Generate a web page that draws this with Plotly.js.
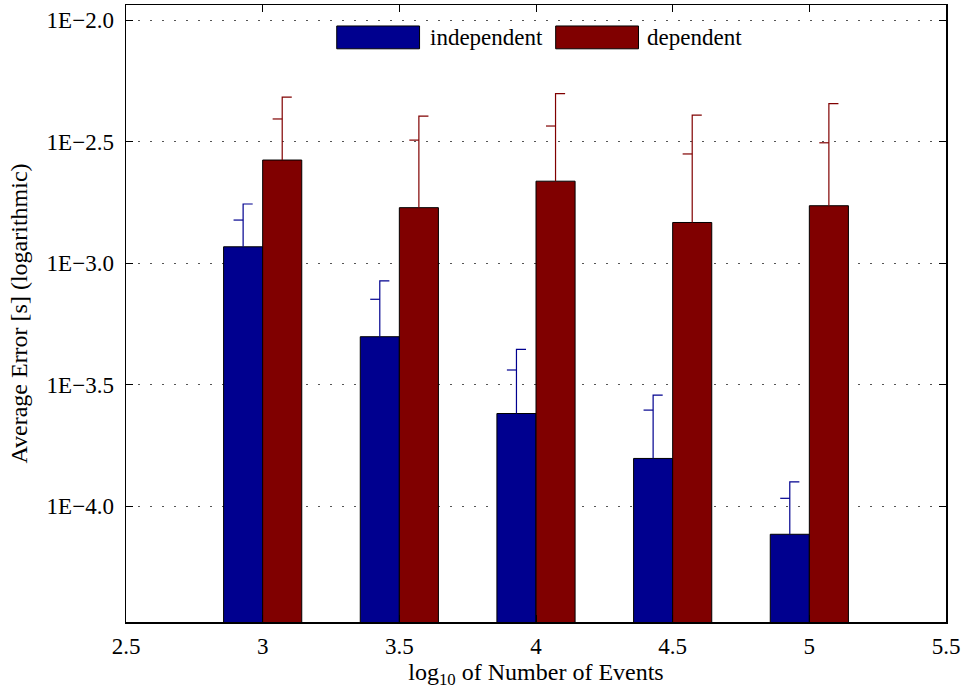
<!DOCTYPE html>
<html>
<head>
<meta charset="utf-8">
<script src="https://cdn.plot.ly/plotly-3.0.1.min.js"></script>
<style>html,body{margin:0;padding:0;background:#fff;}#chart{width:965px;height:690px;}</style>
</head>
<body>
<div id="chart"></div>
<script>
// log10 of number of events
const categories = [3, 3.5, 4, 4.5, 5];
// log10 of average error [s] (bar heights)
const independentVals = [-2.933, -3.303, -3.619, -3.804, -4.116];
const dependentVals   = [-2.576, -2.772, -2.663, -2.833, -2.764];
// error bar marks (log10): middle tick and upper end
const independentMid = [-2.823, -3.149, -3.440, -3.605, -3.968];
const independentTop = [-2.757, -3.073, -3.355, -3.543, -3.900];
const dependentMid   = [-2.407, -2.494, -2.436, -2.551, -2.505];
const dependentTop   = [-2.317, -2.395, -2.303, -2.391, -2.344];
const yTickVals  = [-4.0, -3.5, -3.0, -2.5, -2.0];
const yTickText  = ['1E\u22124.0', '1E\u22123.5', '1E\u22123.0', '1E\u22122.5', '1E\u22122.0'];
const xTickVals  = [2.5, 3, 3.5, 4, 4.5, 5, 5.5];
const xTickText  = ['2.5', '3', '3.5', '4', '4.5', '5', '5.5'];

const BLUE = '#00008f', RED = '#800000';
const BW = 0.143;      // bar width in x units
const CAP = 0.035;     // cap length in x units
const BASE = -5;       // bars start below visible range

function barTrace(vals, color, offset, name) {
  return {
    type: 'bar', name: name, x: categories,
    base: vals.map(() => BASE),
    y: vals.map(v => v - BASE),
    width: vals.map(() => BW), offset: vals.map(() => offset),
    marker: {color: color, line: {color: '#000', width: 1}},
    hoverinfo: 'skip', showlegend: false
  };
}
function errTrace(vals, mids, tops, color, offset) {
  const xs = [], ys = [];
  categories.forEach((c, i) => {
    const xc = c + offset + BW / 2;
    xs.push(xc, xc, xc + CAP, null, xc - CAP, xc, null);
    ys.push(vals[i], tops[i], tops[i], null, mids[i], mids[i], null);
  });
  return {type: 'scatter', mode: 'lines', x: xs, y: ys,
    line: {color: color, width: 1.2}, hoverinfo: 'skip', showlegend: false, cliponaxis: false};
}

const data = [
  barTrace(independentVals, BLUE, -BW, 'independent'),
  barTrace(dependentVals, RED, 0, 'dependent'),
  errTrace(independentVals, independentMid, independentTop, BLUE, -BW),
  errTrace(dependentVals, dependentMid, dependentTop, RED, 0)
];

const FONT = 'Liberation Serif';
const FS = 23;
const layout = {
  width: 965, height: 690,
  margin: {l: 126, r: 19, t: 5, b: 68},
  paper_bgcolor: '#fff', plot_bgcolor: '#fff',
  font: {family: FONT, size: FS, color: '#000'},
  barmode: 'overlay',
  showlegend: false,
  xaxis: {
    range: [2.5, 5.5], tickvals: xTickVals, ticktext: xTickText,
    tickfont: {family: FONT, size: FS, color: '#000'},
    ticks: 'inside', ticklen: 7, tickcolor: '#000', mirror: 'ticks',
    showline: true, linecolor: '#000', linewidth: 1.5,
    showgrid: false, zeroline: false, ticklabelstandoff: 3,
    automargin: false,
    title: {text: 'log<sub>10</sub> of Number of Events', font: {family: FONT, size: 24, color: '#000'}, standoff: 0}
  },
  yaxis: {
    range: [-4.477, -1.938], tickvals: yTickVals, ticktext: yTickText,
    tickfont: {family: FONT, size: FS, color: '#000'},
    ticks: 'inside', ticklen: 7, tickcolor: '#000', mirror: 'ticks',
    showline: true, linecolor: '#000', linewidth: 1.5,
    showgrid: true, gridcolor: '#555', griddash: '2px,10px', gridwidth: 1,
    zeroline: false, ticklabelstandoff: 6, automargin: false,
    title: {text: 'Average Error [s] (logarithmic)', font: {family: FONT, size: 24, color: '#000'}, standoff: 12}
  },
  shapes: [
    {type: 'rect', xref: 'paper', yref: 'paper', x0: 0.257, x1: 0.358, y0: 0.929, y1: 0.966,
     fillcolor: BLUE, line: {color: '#000', width: 1}},
    {type: 'rect', xref: 'paper', yref: 'paper', x0: 0.524, x1: 0.625, y0: 0.929, y1: 0.966,
     fillcolor: RED, line: {color: '#000', width: 1}}
  ],
  annotations: [
    {xref: 'paper', yref: 'paper', x: 0.368, y: 0.948, xanchor: 'left', yanchor: 'middle',
     text: 'independent', showarrow: false, font: {family: FONT, size: FS, color: '#000'}},
    {xref: 'paper', yref: 'paper', x: 0.633, y: 0.948, xanchor: 'left', yanchor: 'middle',
     text: 'dependent', showarrow: false, font: {family: FONT, size: FS, color: '#000'}}
  ]
};

Plotly.newPlot('chart', data, layout, {staticPlot: true, displayModeBar: false});
</script>
</body>
</html>
